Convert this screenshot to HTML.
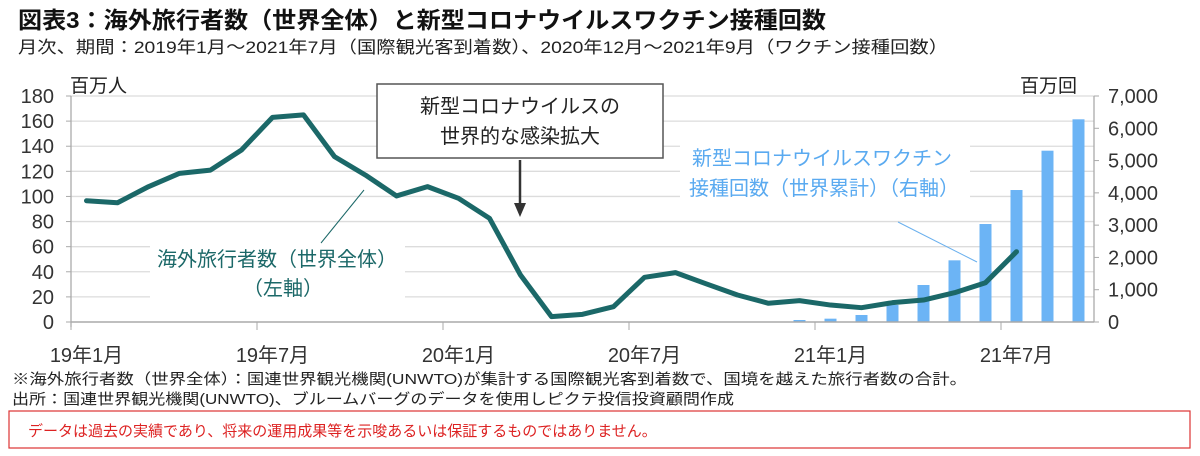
<!DOCTYPE html>
<html><head><meta charset="utf-8"><style>
html,body{margin:0;padding:0;background:#fff;}
svg{display:block;font-family:"Liberation Sans","Noto Sans CJK JP",sans-serif;}
</style></head><body>
<svg id="chart" width="1200" height="456" viewBox="0 0 1200 456">
<text x="18" y="28" font-size="23" font-weight="bold" fill="#111" textLength="808" lengthAdjust="spacingAndGlyphs">図表3：海外旅行者数（世界全体）と新型コロナウイルスワクチン接種回数</text>
<text x="18" y="53" font-size="17" fill="#222" textLength="930" lengthAdjust="spacingAndGlyphs">月次、期間：2019年1月～2021年7月（国際観光客到着数）、2020年12月～2021年9月（ワクチン接種回数）</text>
<g id="grid"></g>
<g id="bars"></g>
<g id="axes"></g>
<g id="line"></g>
<text x="70" y="92" font-size="19" fill="#222">百万人</text>
<text x="1020" y="92" font-size="19" fill="#222">百万回</text>
<rect x="377" y="84" width="286" height="74" fill="#fff" stroke="#555" stroke-width="1.5"/>
<text x="520" y="113" font-size="20" fill="#222" text-anchor="middle">新型コロナウイルスの</text>
<text x="520" y="143" font-size="20" fill="#222" text-anchor="middle">世界的な感染拡大</text>
<line x1="520" y1="160" x2="520" y2="205" stroke="#333" stroke-width="2.5"/>
<polygon points="514,203 526,203 520,217" fill="#333"/>
<line x1="321" y1="243" x2="364" y2="190" stroke="#1b6868" stroke-width="1"/>
<rect x="150" y="244" width="255" height="56" fill="#fff"/>
<text x="277" y="266" font-size="20" fill="#1b6868" text-anchor="middle">海外旅行者数（世界全体）</text>
<text x="283" y="295" font-size="20" fill="#1b6868" text-anchor="middle">（左軸）</text>
<line x1="898" y1="222" x2="977" y2="262" stroke="#6ab0ee" stroke-width="1"/>
<rect x="680" y="144" width="290" height="62" fill="#fff"/>
<text x="822" y="165" font-size="20" fill="#5aaaf0" text-anchor="middle">新型コロナウイルスワクチン</text>
<text x="824" y="195" font-size="20" fill="#5aaaf0" text-anchor="middle">接種回数（世界累計）（右軸）</text>
<text x="12" y="384" font-size="15" fill="#222" textLength="955" lengthAdjust="spacingAndGlyphs">※海外旅行者数（世界全体）：国連世界観光機関(UNWTO)が集計する国際観光客到着数で、国境を越えた旅行者数の合計。</text>
<text x="12" y="404" font-size="15" fill="#222" textLength="722" lengthAdjust="spacingAndGlyphs">出所：国連世界観光機関(UNWTO)、ブルームバーグのデータを使用しピクテ投信投資顧問作成</text>
<rect x="9" y="411" width="1181" height="37" fill="#fff" stroke="#d33" stroke-width="1.2"/>
<text x="28" y="436" font-size="15" fill="#d22">データは過去の実績であり、将来の運用成果等を示唆あるいは保証するものではありません。</text>
</svg>
<script>
const months = ["19年1月","","","","","","19年7月","","","","","","20年1月","","","","","","20年7月","","","","","","21年1月","","","","","","21年7月","",""];
const travelers = [96.6,95,107.8,118.4,121,137,163,165,131.7,117,100.4,107.8,98.5,82.6,37.4,4.3,6.1,12.2,35.6,39.3,30.3,21.5,14.9,17,13.5,11.4,15.4,17.5,23.3,31.3,56];
const vaccineStart = 23;
const vaccines = [62,103,217,527,1146,1910,3035,4088,5306,6278];
const leftTicks = [0,20,40,60,80,100,120,140,160,180];
const rightTicks = [0,1000,2000,3000,4000,5000,6000,7000];
const rightLabels = ["0","1,000","2,000","3,000","4,000","5,000","6,000","7,000"];

const NS="http://www.w3.org/2000/svg";
const X0=71,X1=1094,Y0=322,Y1=96;
const cw=(X1-X0)/months.length;
const xc=i=>X0+cw*(i+0.5);
const yl=v=>Y0-(v/180)*(Y0-Y1);
const yr=v=>Y0-(v/7000)*(Y0-Y1);
function mk(tag,attrs,parent){const e=document.createElementNS(NS,tag);for(const k in attrs)e.setAttribute(k,attrs[k]);parent.appendChild(e);return e;}
const grid=document.getElementById('grid'),axes=document.getElementById('axes'),bars=document.getElementById('bars'),line=document.getElementById('line');
leftTicks.forEach((t,i)=>{
  const y=yl(t);
  if(t>0){const g=mk('line',{x1:X0,x2:X1,y1:y,y2:y,stroke:'#dcdcdc','stroke-width':1.3},grid);
  
  }
  const tx=mk('text',{x:54,y:y+7,'font-size':20,fill:'#333','text-anchor':'end'},axes);tx.textContent=t;
  
  
  const tk=mk('line',{x1:X0-5,x2:X0,y1:y,y2:y,stroke:'#aaa'},axes);
  
  
});
rightTicks.forEach((t,i)=>{
  const y=yr(t);
  const tx=mk('text',{x:1108,y:y+7,'font-size':20,fill:'#333'},axes);tx.textContent=rightLabels[i];
  
  
  const tk=mk('line',{x1:X1,x2:X1+5,y1:y,y2:y,stroke:'#aaa'},axes);
  
  
});
let a=mk('line',{x1:X0,x2:X0,y1:Y1,y2:Y0+5,stroke:'#aaa','stroke-width':1.3},axes);


a=mk('line',{x1:X1,x2:X1,y1:Y1,y2:Y0,stroke:'#aaa','stroke-width':1.3},axes);


a=mk('line',{x1:X0,x2:X1,y1:Y0,y2:Y0,stroke:'#aaa','stroke-width':1.5},axes);


months.forEach((m,i)=>{
  if(!m)return;
  const x=X0+cw*i;
  const tk=mk('line',{x1:x,x2:x,y1:Y0,y2:Y0+8,stroke:'#aaa'},axes);
  
  
  const tx=mk('text',{x:xc(i),y:362,'font-size':20,fill:'#333','text-anchor':'middle'},axes);tx.textContent=m;
  
  
});
vaccines.forEach((v,i)=>{
  const x=xc(vaccineStart+i);
  const r=mk('rect',{x:x-6,y:yr(v),width:12,height:Y0-yr(v),fill:'#6cb4f5'},bars);
  
  
});
const p=mk('polyline',{points:travelers.map((v,i)=>xc(i)+','+yl(v)).join(' '),fill:'none',stroke:'#1b6868','stroke-width':5,'stroke-linejoin':'round','stroke-linecap':'round'},line);


</script>
</body></html>
